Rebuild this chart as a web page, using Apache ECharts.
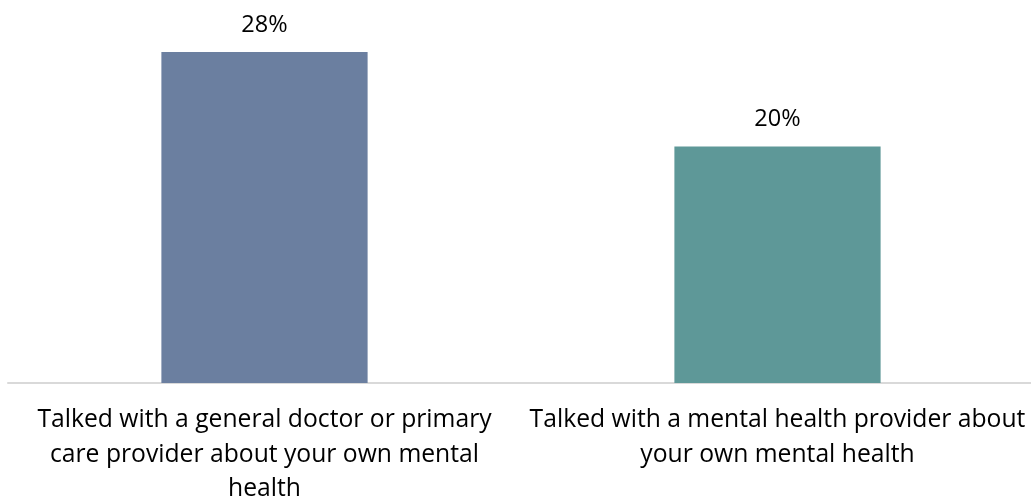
<!DOCTYPE html>
<html>
<head>
<meta charset="utf-8">
<script src="https://cdn.jsdelivr.net/npm/echarts@6/dist/echarts.min.js"></script>
<style>html,body{margin:0;padding:0;background:#fff;}#c{width:1031px;height:500px;}</style>
</head>
<body>
<div id="c"></div>
<script>
const categories = [
  'Talked with a general doctor or primary\ncare provider about your own mental\nhealth',
  'Talked with a mental health provider about\nyour own mental health'
];
const values = [28, 20];
const barColors = ['#6B7FA0', '#5E9898'];

const chart = echarts.init(document.getElementById('c'));
chart.setOption({
  animation: false,
  grid: { left: 8, right: -3, top: 28.4, bottom: 117, containLabel: false, outerBoundsMode: 'none' },
  xAxis: {
    type: 'category',
    data: categories,
    axisLine: { show: true, lineStyle: { color: '#D9D9D9', width: 2 } },
    axisTick: { show: false },
    axisLabel: {
      interval: 0,
      margin: 20,
      color: '#000',
      fontFamily: 'Open Sans',
      fontSize: 24.7,
      lineHeight: 34.5,
      align: 'center'
    }
  },
  yAxis: {
    type: 'value', min: 0, max: 30,
    show: false,
    splitLine: { show: false }
  },
  series: [{
    type: 'bar',
    barWidth: '40.2%',
    data: values.map((v, i) => ({ value: v, itemStyle: { color: barColors[i] } })),
    label: {
      show: true, position: 'top', distance: 15,
      formatter: p => p.value + '%',
      color: '#000', fontFamily: 'Open Sans', fontSize: 23.5
    }
  }]
});
</script>
</body>
</html>
